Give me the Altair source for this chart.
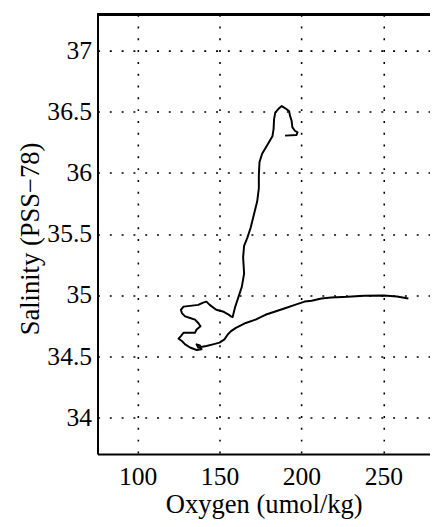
import altair as alt
import pandas as pd

# Oxygen (umol/kg) and salinity (PSS-78) along the profile, in path order
oxygen = [190.0, 197.0, 197.6, 196.0, 194.5, 194.0, 193.0, 192.5, 191.0, 188.0,
          186.0, 184.0, 183.3, 183.0, 182.3, 179.0, 176.0, 174.4, 174.0, 174.0,
          173.0, 171.0, 169.0, 167.0, 165.0, 164.4, 165.0, 163.6, 161.6, 159.6,
          158.0, 157.0, 155.0, 152.0, 148.0, 144.0, 142.0, 140.0, 137.0, 132.0,
          128.0, 126.4, 127.0, 129.0, 132.0, 135.0, 137.0, 138.4, 136.0, 135.0,
          131.0, 128.0, 126.4, 125.0, 127.0, 129.0, 132.0, 136.0, 139.0, 138.0,
          136.0, 137.0, 142.0, 146.0, 150.0, 153.0, 155.0, 157.0, 160.0, 166.0,
          172.0, 178.0, 184.0, 190.0, 196.0, 202.0, 206.2, 212.2, 218.2, 228.3,
          238.3, 250.3, 258.3, 265.3]
salinity = [36.306, 36.311, 36.333, 36.346, 36.373, 36.427, 36.470, 36.505, 36.522, 36.548,
            36.525, 36.494, 36.440, 36.360, 36.300, 36.225, 36.157, 36.090, 35.983, 35.875,
            35.768, 35.660, 35.552, 35.471, 35.404, 35.310, 35.176, 35.068, 34.987, 34.906,
            34.820, 34.826, 34.845, 34.866, 34.880, 34.920, 34.947, 34.939, 34.920, 34.912,
            34.906, 34.880, 34.853, 34.826, 34.813, 34.799, 34.772, 34.745, 34.718, 34.692,
            34.692, 34.692, 34.664, 34.643, 34.624, 34.597, 34.571, 34.551, 34.557, 34.589,
            34.597, 34.571, 34.584, 34.597, 34.611, 34.638, 34.678, 34.705, 34.732, 34.772,
            34.799, 34.839, 34.866, 34.893, 34.920, 34.947, 34.954, 34.973, 34.981, 34.986,
            34.995, 34.997, 34.989, 34.973]

x_ticks = [100, 150, 200, 250]
y_ticks = [34, 34.5, 35, 35.5, 36, 36.5, 37]

df = pd.DataFrame({"oxygen": oxygen, "salinity": salinity, "step": list(range(len(oxygen)))})

W, H = 338, 447
FONT = "Liberation Serif, serif"

line = alt.Chart(df).mark_line(color="black", strokeWidth=2, strokeJoin="round").encode(
    x=alt.X("oxygen:Q",
            scale=alt.Scale(domain=[75.5, 278.5], nice=False, zero=False),
            axis=alt.Axis(values=x_ticks, title="Oxygen (umol/kg)", format="d",
                          grid=True, gridDash=[2, 10], gridColor="black", gridWidth=1.6,
                          gridOpacity=1, ticks=False, tickSize=0,
                          domainColor="black", domainWidth=2,
                          labelFont=FONT, labelFontSize=26, labelColor="black",
                          labelBaseline="alphabetic", labelPadding=31,
                          titleFont=FONT, titleFontSize=27, titleFontWeight="normal",
                          titleColor="black", titleBaseline="alphabetic", titleY=60)),
    y=alt.Y("salinity:Q",
            scale=alt.Scale(domain=[33.7, 37.3], nice=False, zero=False),
            axis=alt.Axis(values=y_ticks, title="Salinity (PSS\u221278)", format="~g",
                          grid=True, gridDash=[2, 10], gridColor="black", gridWidth=1.6,
                          gridOpacity=1, ticks=False, tickSize=0,
                          domainColor="black", domainWidth=2,
                          labelFont=FONT, labelFontSize=26, labelColor="black",
                          labelPadding=6,
                          titleFont=FONT, titleFontSize=27, titleFontWeight="normal",
                          titleColor="black", titleAngle=270, titleAlign="center",
                          titleBaseline="alphabetic", titleX=-60, titleY=228)),
    order="step:Q",
)

top_frame = alt.Chart(df).mark_rule(color="black", strokeWidth=2).encode(
    x=alt.value(0), x2=alt.value(W), y=alt.value(0)
)

chart = alt.layer(line, top_frame).properties(
    width=W, height=H,
    autosize=alt.AutoSizeParams(type="none"),
    padding={"left": 91, "top": 2, "right": 0, "bottom": 70},
).configure_view(stroke=None)

chart.save("out.html", embed_options={"renderer": "svg", "actions": False})
